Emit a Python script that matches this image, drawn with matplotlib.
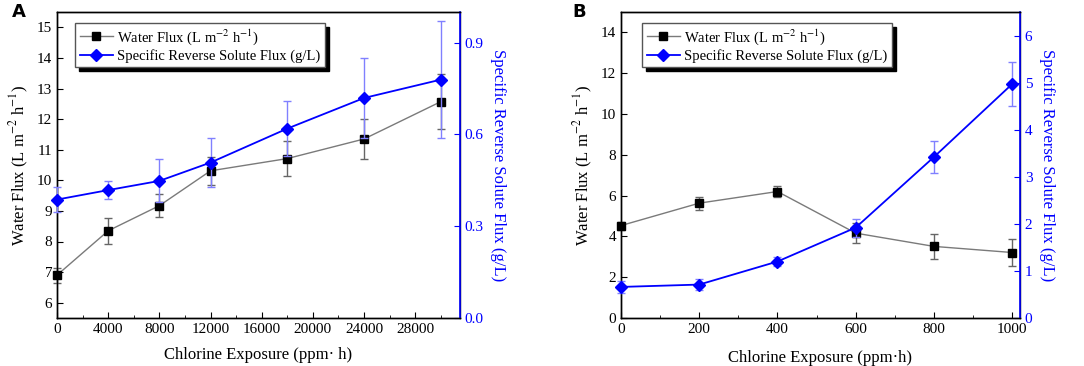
import matplotlib
matplotlib.use('Agg')
import matplotlib.pyplot as plt
from matplotlib.ticker import MultipleLocator
from matplotlib.lines import Line2D

plt.rcParams['font.family'] = ['Liberation Serif', 'DejaVu Serif']
plt.rcParams['mathtext.fontset'] = 'stix'

# Panel A data
xa = [0, 4000, 8000, 12000, 18000, 24000, 30000]
wf_a = [6.9, 8.35, 9.17, 10.31, 10.71, 11.35, 12.57]
wf_a_err = [0.25, 0.43, 0.37, 0.45, 0.57, 0.65, 0.89]
rsf_a = [0.387, 0.418, 0.448, 0.508, 0.619, 0.719, 0.779]
rsf_a_err = [0.04, 0.03, 0.07, 0.08, 0.09, 0.13, 0.19]

# Panel B data
xb = [0, 200, 400, 600, 800, 1000]
wf_b = [4.53, 5.63, 6.2, 4.16, 3.51, 3.21]
wf_b_err = [0.2, 0.32, 0.25, 0.5, 0.6, 0.65]
rsf_b = [0.66, 0.71, 1.2, 1.92, 3.42, 4.97]
rsf_b_err = [0.12, 0.12, 0.1, 0.19, 0.33, 0.47]

W, H = 1084, 366
fig = plt.figure(figsize=(W / 100, H / 100), dpi=100)

blue = '#0000ff'
grey = '#7a7a7a'
wlab = 'Water Flux (L m$^{-2}$ h$^{-1}$)'
rlab = 'Specific Reverse Solute Flux (g/L)'


def panel(left, right, x, wf, wfe, rsf, rsfe, xlim, ylim, y2lim, xmaj, xmin, ymaj, y2maj,
          xlabel, xpad, leg_x):
    ax = fig.add_axes([left / W, (H - 318) / H, (right - left) / W, (318 - 12) / H])
    ax2 = ax.twinx()
    ax.errorbar(x, wf, yerr=wfe, color=grey, lw=1, marker='s', ms=6,
                mfc='black', mec='black', ecolor='#666666', elinewidth=1,
                capsize=3, clip_on=False, zorder=3)
    ax2.errorbar(x, rsf, yerr=rsfe, color=blue, lw=1.3, marker='D', ms=6,
                 mfc=blue, mec=blue, ecolor='#8080ff', elinewidth=1,
                 capsize=3, clip_on=False, zorder=3)
    ax.set_xlim(*xlim)
    ax.set_ylim(*ylim)
    ax2.set_ylim(*y2lim)
    ax.xaxis.set_major_locator(MultipleLocator(xmaj))
    ax.xaxis.set_minor_locator(MultipleLocator(xmin))
    ax.yaxis.set_major_locator(MultipleLocator(ymaj))
    ax2.yaxis.set_major_locator(MultipleLocator(y2maj))
    ax.tick_params(direction='in', labelsize=11, length=4, top=False)
    ax.tick_params(which='minor', direction='in', length=2.5)
    ax2.tick_params(direction='in', labelsize=11, length=4, colors=blue)
    ax2.spines['right'].set_color(blue)
    for a in (ax, ax2):
        for s in a.spines.values():
            s.set_linewidth(1)
    ax2.spines['right'].set_linewidth(1.2)
    ax.set_xlabel(xlabel, fontsize=12, labelpad=xpad)
    ax.set_ylabel(wlab, fontsize=12)
    ax2.set_ylabel(rlab, fontsize=12, color=blue, rotation=270, labelpad=16)
    h1 = Line2D([], [], color=grey, lw=1, marker='s', ms=6, mfc='black', mec='black')
    h2 = Line2D([], [], color=blue, lw=1.3, marker='D', ms=6, mfc=blue, mec=blue)
    ax2.legend([h1, h2], [wlab, rlab], loc='upper left', bbox_to_anchor=(leg_x, 0.965),
               fontsize=10.5, fancybox=False, edgecolor='#555555', framealpha=1,
               handlelength=2.3, handletextpad=0.3, borderpad=0.3, labelspacing=0.15,
               borderaxespad=0,
               shadow={'ox': 3, 'oy': -3, 'color': 'black', 'alpha': 1})
    return ax


axa = panel(57, 460, xa, wf_a, wf_a_err, rsf_a, rsf_a_err, (0, 31500), (5.5, 15.5),
            (0, 1.0), 4000, 2000, 1, 0.3, 'Chlorine Exposure (ppm· h)', 8, 0.045)
axb = panel(621, 1020, xb, wf_b, wf_b_err, rsf_b, rsf_b_err, (0, 1020), (0, 15),
            (0, 6.5), 200, 100, 2, 1, 'Chlorine Exposure (ppm·h)', 10, 0.053)

fig.text(12 / W, 1 - 12 / H, 'A', fontsize=13, fontweight='bold', family='DejaVu Sans',
         va='center', ha='left')
fig.text(572 / W, 1 - 12 / H, 'B', fontsize=13, fontweight='bold', family='DejaVu Sans',
         va='center', ha='left')

fig.savefig('out.png', dpi=100)
